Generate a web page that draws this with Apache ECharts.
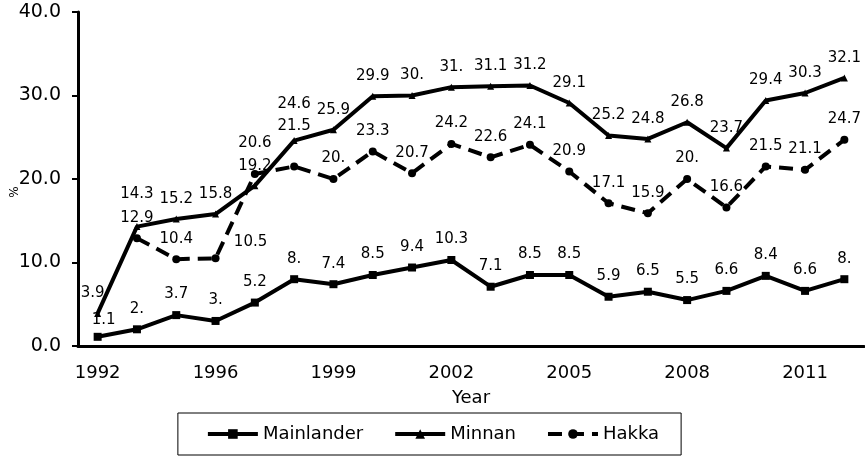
<!DOCTYPE html>
<html>
<head>
<meta charset="utf-8">
<script src="https://cdn.jsdelivr.net/npm/echarts@6/dist/echarts.min.js"></script>
<style>
  html, body { margin: 0; padding: 0; background: #fff; }
  #chart { width: 865px; height: 456px; }
</style>
</head>
<body>
<div id="chart"></div>
<script>
const years = ["1992", "1994", "1995", "1996", "1997", "1998", "1999", "2000", "2001", "2002",
  "2003", "2004", "2005", "2006", "2007", "2008", "2009", "2010", "2011", "2012"];
const mainlander = [1.1, 2.0, 3.7, 3.0, 5.2, 8.0, 7.4, 8.5, 9.4, 10.3, 7.1, 8.5, 8.5, 5.9, 6.5, 5.5, 6.6, 8.4, 6.6, 8.0];
const minnan = [3.9, 14.3, 15.2, 15.8, 19.2, 24.6, 25.9, 29.9, 30.0, 31.0, 31.1, 31.2, 29.1, 25.2, 24.8, 26.8, 23.7, 29.4, 30.3, 32.1];
const hakka = [null, 12.9, 10.4, 10.5, 20.6, 21.5, 20.0, 23.3, 20.7, 24.2, 22.6, 24.1, 20.9, 17.1, 15.9, 20.0, 16.6, 21.5, 21.1, 24.7];

// a few labels get nudged like in the original, where they collide
const labelShift = {
  Mainlander: { 0: [6, 4] },
  Minnan: { 0: [-5, 0], 1: [0, -12], 5: [0, -16] },
  Hakka: { 3: [35, 4], 4: [0, -10], 5: [0, -20] },
};

const chart = echarts.init(document.getElementById("chart"));
const font = "DejaVu Sans";

// excel style labels: 30.0 -> "30."
function fmt(p) {
  const v = p.value;
  return Number.isInteger(v) ? v + "." : String(v);
}

function lineSerie(name, values, symbol, dashed) {
  const shifts = labelShift[name] || {};
  const data = values.map((v, i) =>
    shifts[i] ? { value: v, label: { offset: shifts[i] } } : v
  );
  return {
    name: name,
    type: "line",
    data: data,
    symbol: symbol,
    symbolSize: symbol === "triangle" ? 7 : 8,
    connectNulls: false,
    lineStyle: { color: "#000", width: 4, type: dashed ? [14, 8] : "solid" },
    itemStyle: { color: "#000" },
    label: {
      show: true,
      position: "top",
      distance: 9,
      color: "#000",
      fontFamily: font,
      fontSize: 15,
      formatter: fmt,
    },
    emphasis: { disabled: true },
    animation: false,
  };
}

chart.setOption({
  animation: false,
  grid: { left: 78, right: 1, top: 12, bottom: 110, outerBoundsMode: "none", containLabel: false },
  xAxis: {
    type: "category",
    data: years,
    boundaryGap: true,
    name: "Year",
    nameLocation: "middle",
    nameGap: 43,
    nameMoveOverlap: false,
    nameTextStyle: { color: "#000", fontFamily: font, fontSize: 18 },
    axisLine: { lineStyle: { color: "#000", width: 3 } },
    axisTick: { show: false },
    axisLabel: { interval: 2, color: "#000", fontFamily: font, fontSize: 18, margin: 18 },
  },
  yAxis: {
    type: "value",
    min: 0,
    max: 40,
    interval: 10,
    name: "%",
    nameLocation: "middle",
    nameRotate: 90,
    nameGap: 57,
    nameMoveOverlap: false,
    nameTextStyle: { color: "#000", fontFamily: font, fontSize: 12, padding: [0, 0, 0, -26] },
    axisLine: { show: true, lineStyle: { color: "#000", width: 3 } },
    axisTick: { show: true, length: 6, lineStyle: { color: "#000", width: 2 } },
    splitLine: { show: false },
    axisLabel: {
      color: "#000",
      fontFamily: font,
      fontSize: 19,
      margin: 17,
      formatter: (v) => v.toFixed(1),
    },
  },
  legend: {
    bottom: 1,
    left: "center",
    orient: "horizontal",
    borderColor: "#000",
    borderWidth: 1,
    borderRadius: 0,
    padding: [12, 22, 12, 28],
    itemGap: 30,
    itemWidth: 50,
    itemHeight: 12,
    lineStyle: { width: 4 },
    textStyle: { color: "#000", fontFamily: font, fontSize: 18 },
    data: ["Mainlander", "Minnan", "Hakka"],
  },
  series: [
    lineSerie("Mainlander", mainlander, "rect", false),
    lineSerie("Minnan", minnan, "triangle", false),
    lineSerie("Hakka", hakka, "circle", true),
  ],
});

window.addEventListener("resize", () => {
  chart.resize();
});
</script>
</body>
</html>
